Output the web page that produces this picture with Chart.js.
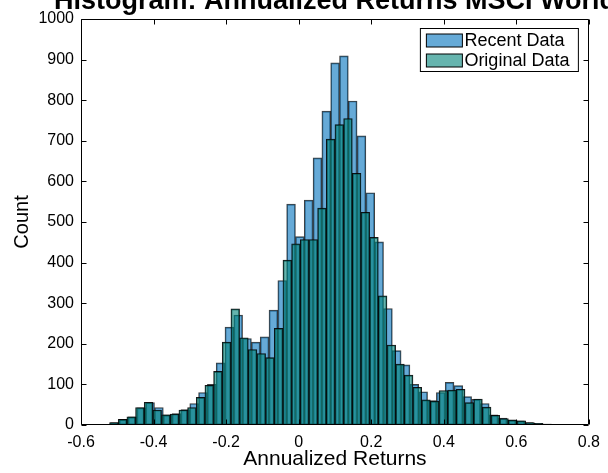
<!DOCTYPE html>
<html>
<head>
<meta charset="utf-8">
<script src="https://cdn.jsdelivr.net/npm/chart.js@4/dist/chart.umd.min.js"></script>
<style>
  html, body { margin: 0; padding: 0; background: #fff; }
  #wrap { width: 608px; height: 473px; }
</style>
</head>
<body>
<div id="wrap"><canvas id="c" width="608" height="473"></canvas></div>
<script>
// Histogram of simulated annualized returns, two overlaid sample sets
const titleText = 'Histogram: Annualized Returns MSCI World';
const xAxisTitle = 'Annualized Returns';
const yAxisTitle = 'Count';

const xTickValues = [-0.6, -0.4, -0.2, 0, 0.2, 0.4, 0.6, 0.8];
const xTickLabels = ['-0.6', '-0.4', '-0.2', '0', '0.2', '0.4', '0.6', '0.8'];
const yTickValues = [0, 100, 200, 300, 400, 500, 600, 700, 800, 900, 1000];
const yTickLabels = ['0', '100', '200', '300', '400', '500', '600', '700', '800', '900', '1000'];

// Recent data: bin centres and counts
const recentBinCenters = [
  -0.5066, -0.4823, -0.4580, -0.4338, -0.4095, -0.3852, -0.3609, -0.3367, -0.3124, -0.2881,
  -0.2638, -0.2395, -0.2153, -0.1910, -0.1667, -0.1424, -0.1181, -0.0939, -0.0696, -0.0453,
  -0.0210, 0.0033, 0.0275, 0.0518, 0.0761, 0.1004, 0.1247, 0.1489, 0.1732, 0.1975,
  0.2218, 0.2461, 0.2703, 0.2946, 0.3189, 0.3432, 0.3675, 0.3917, 0.4160, 0.4403,
  0.4646, 0.4889, 0.5131, 0.5374, 0.5617, 0.5860, 0.6103, 0.6345, 0.6588, 0.6831,
  0.7074
];
const recentCounts = [
  6, 14, 20, 42, 55, 43, 25, 28, 38, 53,
  80, 100, 153, 241, 271, 213, 204, 217, 283, 356,
  544, 464, 554, 658, 773, 892, 909, 798, 712, 572,
  451, 287, 183, 148, 100, 82, 60, 80, 105, 97,
  70, 63, 53, 25, 17, 13, 10, 6, 4, 2,
  1
];

// Original data: bin centres and counts
const originalBinCenters = [
  -0.5094, -0.4855, -0.4616, -0.4377, -0.4138, -0.3899, -0.3660, -0.3421, -0.3182, -0.2943,
  -0.2704, -0.2465, -0.2226, -0.1987, -0.1748, -0.1509, -0.1270, -0.1031, -0.0792, -0.0553,
  -0.0314, -0.0075, 0.0164, 0.0403, 0.0642, 0.0881, 0.1120, 0.1359, 0.1598, 0.1837,
  0.2076, 0.2315, 0.2554, 0.2793, 0.3032, 0.3271, 0.3510, 0.3749, 0.3988, 0.4227,
  0.4466, 0.4705, 0.4944, 0.5183, 0.5422, 0.5661, 0.5900, 0.6139, 0.6378, 0.6617,
  0.6856
];
const originalCounts = [
  6, 14, 20, 43, 56, 37, 25, 27, 37, 43,
  68, 98, 132, 204, 286, 215, 186, 176, 166, 238,
  406, 446, 457, 457, 534, 704, 740, 755, 620, 524,
  462, 318, 197, 150, 123, 93, 62, 59, 85, 86,
  88, 55, 64, 44, 24, 16, 12, 10, 6, 4,
  2
];

const FONT = '"Liberation Sans", Arial, Helvetica, sans-serif';
const recentFill = 'rgba(0, 114, 189, 0.6)';
const originalFill = 'rgba(0, 130, 120, 0.6)';

const toPoints = (xs, ys) => xs.map((x, i) => ({ x: x, y: ys[i] }));

// Axes box with inward tick marks on all four sides
const axesBox = {
  id: 'axesBox',
  afterDatasetsDraw(chart) {
    const { ctx, chartArea: a, scales } = chart;
    const L = Math.round(a.left) + 0.5, R = Math.round(a.right) - 0.5;
    const T = Math.round(a.top) + 0.5, B = Math.round(a.bottom) - 0.5;
    const len = 5;
    ctx.save();
    ctx.strokeStyle = '#000';
    ctx.lineWidth = 1;
    ctx.beginPath();
    ctx.rect(L, T, R - L, B - T);
    xTickValues.forEach(v => {
      const p = Math.round(scales.x.getPixelForValue(v)) + 0.5;
      ctx.moveTo(p, B); ctx.lineTo(p, B - len);
      ctx.moveTo(p, T); ctx.lineTo(p, T + len);
    });
    yTickValues.forEach(v => {
      const p = Math.round(scales.y.getPixelForValue(v)) + 0.5;
      ctx.moveTo(L, p); ctx.lineTo(L + len, p);
      ctx.moveTo(R, p); ctx.lineTo(R - len, p);
    });
    ctx.stroke();
    ctx.restore();
  }
};

// Title centred over the axes, and a boxed legend in the upper right
const decorations = {
  id: 'decorations',
  afterDraw(chart) {
    const { ctx, chartArea: a } = chart;
    ctx.save();
    ctx.fillStyle = '#000';
    ctx.font = 'bold 27px ' + FONT;
    ctx.textAlign = 'center';
    ctx.textBaseline = 'alphabetic';
    ctx.fillText(titleText, (a.left + a.right) / 2, 9);

    const bx = a.right - 168.5, by = a.top + 9.5, bw = 158, bh = 43;
    ctx.fillStyle = '#fff';
    ctx.fillRect(bx, by, bw, bh);
    ctx.strokeStyle = '#000';
    ctx.lineWidth = 1;
    ctx.strokeRect(bx, by, bw, bh);

    const items = [chart.data.datasets[0], chart.data.datasets[1]];
    ctx.font = '18px ' + FONT;
    ctx.textAlign = 'left';
    ctx.textBaseline = 'middle';
    items.forEach((ds, i) => {
      const sy = by + 5.5 + i * 20;
      ctx.fillStyle = '#fff';
      ctx.fillRect(bx + 6, sy, 36, 13);
      ctx.fillStyle = ds.backgroundColor;
      ctx.fillRect(bx + 6, sy, 36, 13);
      ctx.strokeStyle = '#000';
      ctx.strokeRect(bx + 6, sy, 36, 13);
      ctx.fillStyle = '#000';
      ctx.fillText(ds.label, bx + 44, sy + 7);
    });
    ctx.restore();
  }
};

new Chart(document.getElementById('c'), {
  type: 'bar',
  data: {
    datasets: [
      {
        label: 'Recent Data',
        data: toPoints(recentBinCenters, recentCounts),
        xAxisID: 'xr',
        backgroundColor: recentFill,
        borderColor: 'rgba(0,0,0,0.75)',
        borderWidth: 1,
        borderSkipped: false,
        grouped: false,
        barPercentage: 1,
        categoryPercentage: 1,
        order: 2
      },
      {
        label: 'Original Data',
        data: toPoints(originalBinCenters, originalCounts),
        xAxisID: 'x',
        backgroundColor: originalFill,
        borderColor: 'rgba(0,0,0,0.9)',
        borderWidth: 1,
        borderSkipped: false,
        grouped: false,
        barPercentage: 1,
        categoryPercentage: 1,
        order: 1
      }
    ]
  },
  options: {
    responsive: false,
    animation: false,
    devicePixelRatio: 1,
    layout: { padding: { top: 19, right: 11, bottom: 0, left: 0 } },
    plugins: {
      legend: { display: false },
      title: { display: false },
      tooltip: { enabled: false }
    },
    scales: {
      x: {
        type: 'linear',
        min: -0.6, max: 0.8,
        offset: false,
        grid: { display: false, drawTicks: false },
        border: { display: false },
        afterBuildTicks: s => { s.ticks = xTickValues.map(v => ({ value: v })); },
        afterFit: s => { s.height = 48; },
        ticks: {
          autoSkip: false, maxRotation: 0, padding: 8, color: '#000',
          font: { family: FONT, size: 16 },
          callback: (v, i) => xTickLabels[i]
        },
        title: {
          display: true, text: xAxisTitle, color: '#000',
          font: { family: FONT, size: 21 },
          padding: { top: 0, bottom: 1 }
        }
      },
      xr: {
        type: 'linear',
        min: -0.6, max: 0.8,
        offset: false,
        display: false
      },
      y: {
        min: 0, max: 1000,
        grid: { display: false, drawTicks: false },
        border: { display: false },
        afterBuildTicks: s => { s.ticks = yTickValues.map(v => ({ value: v })); },
        afterFit: s => { s.width = 81; },
        ticks: {
          autoSkip: false, padding: 7, color: '#000',
          font: { family: FONT, size: 16 },
          callback: (v, i) => yTickLabels[i]
        },
        title: {
          display: true, text: yAxisTitle, color: '#000',
          font: { family: FONT, size: 20 },
          padding: { top: 10, bottom: 0 }
        }
      }
    }
  },
  plugins: [axesBox, decorations]
});
</script>
</body>
</html>
